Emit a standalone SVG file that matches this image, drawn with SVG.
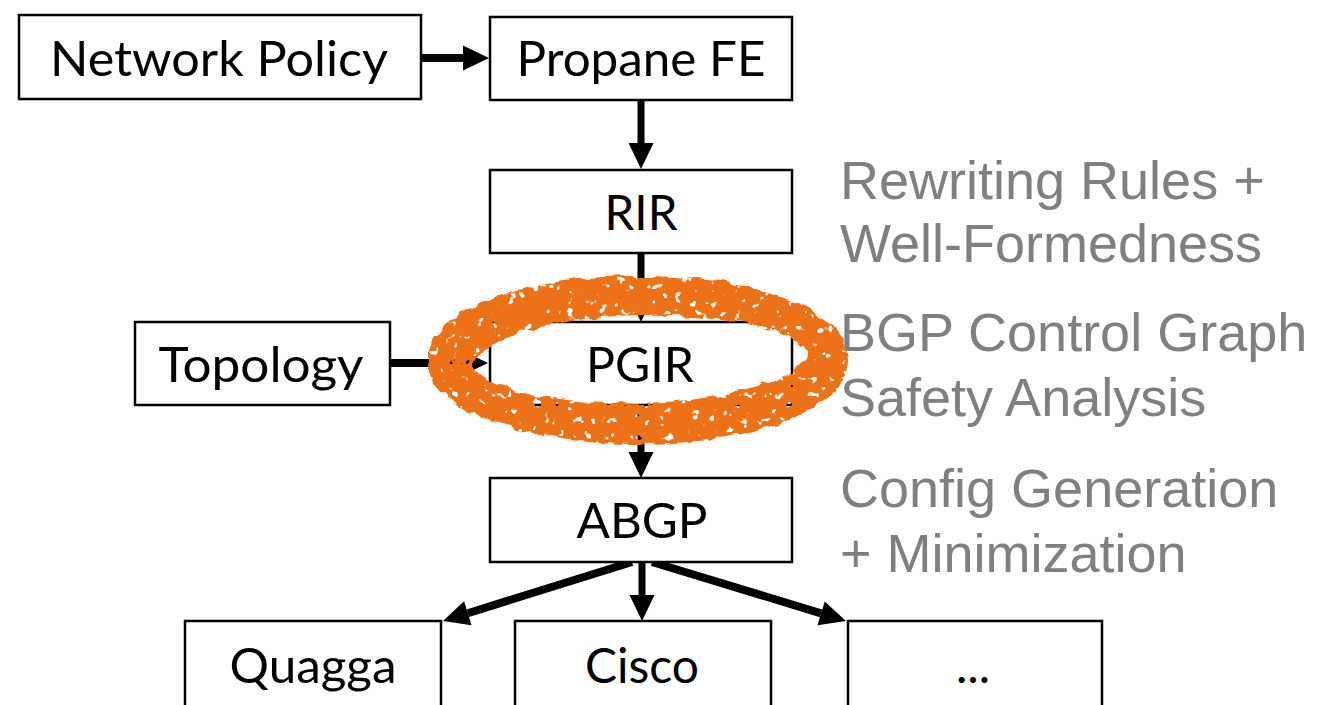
<svg xmlns="http://www.w3.org/2000/svg" width="1320" height="705" viewBox="0 0 1320 705">
  <style>
    .box { fill: #ffffff; stroke: #000000; stroke-width: 2.5; }
    .lbl { font-family: Lato, "Open Sans", sans-serif; font-size: 48px; fill: #000000; text-anchor: middle; }
    .note { font-family: "Liberation Sans", Arial, sans-serif; font-size: 54px; fill: #7f7f7f; }
    .wire { stroke: #000000; stroke-width: 8; fill: none; marker-end: url(#head); }
    .wire.v { stroke-width: 7; }
    .ring { fill: none; stroke: #ed7118; }
  </style>
  <defs>
    <marker id="head" markerUnits="userSpaceOnUse" markerWidth="27" markerHeight="26" refX="0" refY="12.5" orient="auto" overflow="visible">
      <path d="M0,0 L26,12.5 L0,25 Z" fill="#000000"/>
    </marker>
    <!-- rough dry-brush look for the highlight ring -->
    <filter id="brush" x="-15%" y="-30%" width="130%" height="160%">
      <feTurbulence type="fractalNoise" baseFrequency="0.07" numOctaves="2" seed="4" result="warp"/>
      <feDisplacementMap in="SourceGraphic" in2="warp" scale="9" xChannelSelector="R" yChannelSelector="G" result="shaken"/>
      <feTurbulence type="fractalNoise" baseFrequency="0.12" numOctaves="2" seed="11" result="grain"/>
      <feColorMatrix in="grain" type="matrix" values="0 0 0 0 0  0 0 0 0 0  0 0 0 0 0  16 0 0 0 -4.3" result="speck"/>
      <feComposite in="shaken" in2="speck" operator="in"/>
    </filter>
  </defs>

  <!-- connectors -->
  <g id="connectors">
    <line class="wire" x1="422" y1="58" x2="463" y2="58"/>
    <line class="wire v" x1="641" y1="100" x2="641" y2="143"/>
    <line class="wire v" x1="641" y1="253" x2="641" y2="296"/>
    <line class="wire" x1="390" y1="363" x2="462" y2="363"/>
    <line class="wire v" x1="641" y1="405" x2="641" y2="452"/>
    <line class="wire v" x1="642" y1="562" x2="642" y2="595"/>
    <line class="wire" x1="632" y1="562" x2="467.8" y2="613.2"/>
    <line class="wire" x1="652" y1="562" x2="821.1" y2="613.4"/>
  </g>

  <!-- nodes -->
  <g id="network-policy">
    <rect class="box" x="19" y="15" width="402" height="84"/>
    <text class="lbl" x="219" y="76" textLength="338" lengthAdjust="spacingAndGlyphs">Network Policy</text>
  </g>
  <g id="propane-fe">
    <rect class="box" x="490" y="17" width="302" height="83"/>
    <text class="lbl" x="641" y="76" textLength="249" lengthAdjust="spacingAndGlyphs">Propane FE</text>
  </g>
  <g id="rir">
    <rect class="box" x="490" y="170" width="302" height="83"/>
    <text class="lbl" x="641" y="230" textLength="73" lengthAdjust="spacingAndGlyphs">RIR</text>
  </g>
  <g id="topology">
    <rect class="box" x="135" y="322" width="255" height="83"/>
    <text class="lbl" x="261" y="382" textLength="205" lengthAdjust="spacingAndGlyphs">Topology</text>
  </g>
  <g id="pgir">
    <rect class="box" x="490" y="322" width="302" height="83"/>
    <text class="lbl" x="640" y="382" textLength="108" lengthAdjust="spacingAndGlyphs">PGIR</text>
  </g>
  <g id="abgp">
    <rect class="box" x="490" y="478" width="302" height="84"/>
    <text class="lbl" x="642" y="538" textLength="131" lengthAdjust="spacingAndGlyphs">ABGP</text>
  </g>
  <g id="quagga">
    <rect class="box" x="185" y="621" width="256" height="100"/>
    <text class="lbl" x="313" y="683" textLength="167" lengthAdjust="spacingAndGlyphs">Quagga</text>
  </g>
  <g id="cisco">
    <rect class="box" x="515" y="621" width="256" height="100"/>
    <text class="lbl" x="642" y="683" textLength="114" lengthAdjust="spacingAndGlyphs">Cisco</text>
  </g>
  <g id="more">
    <rect class="box" x="848" y="621" width="254" height="100"/>
    <text class="lbl" x="973" y="683">...</text>
  </g>

  <!-- stage notes -->
  <g id="notes">
    <text class="note" x="840" y="199">Rewriting Rules +</text>
    <text class="note" x="840" y="262">Well-Formedness</text>
    <text class="note" x="840" y="351">BGP Control Graph</text>
    <text class="note" x="840" y="416">Safety Analysis</text>
    <text class="note" x="840" y="507">Config Generation</text>
    <text class="note" x="840" y="572">+ Minimization</text>
  </g>

  <!-- hand-drawn highlight round PGIR -->
  <g id="highlight" filter="url(#brush)">
    <ellipse class="ring" cx="638" cy="360" rx="197" ry="71" stroke-width="26"/>
    <ellipse class="ring" cx="640" cy="359" rx="176" ry="54" stroke-width="20" transform="rotate(-1.5 640 359)"/>
  </g>
</svg>
